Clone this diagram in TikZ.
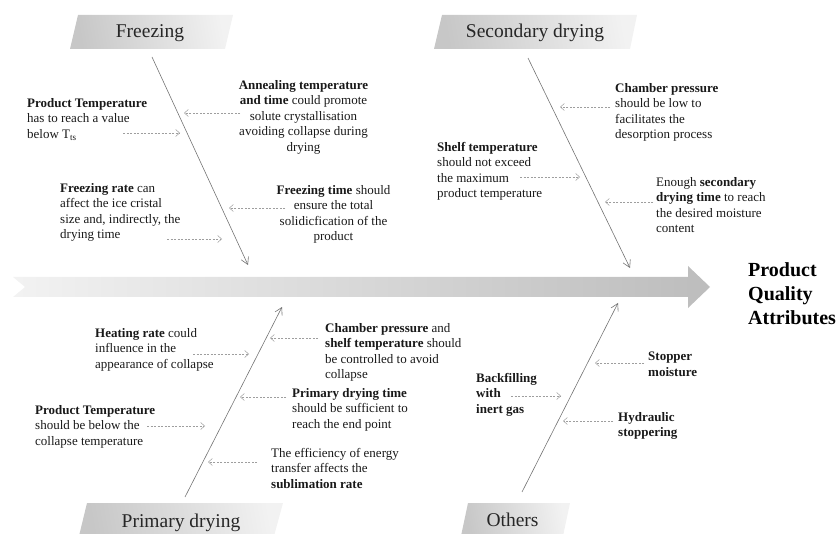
\documentclass[tikz,border=0pt]{standalone}
\usepackage{fontspec}
\setmainfont{Liberation Serif}
\usetikzlibrary{arrows.meta}
\begin{document}
\begin{tikzpicture}[x=1pt,y=-1pt,
  txt/.style={font=\fontsize{13}{15.5}\selectfont, inner sep=0pt, align=left, anchor=north west, text=black!90},
  ctxt/.style={txt, align=center, anchor=north},
  ttl/.style={font=\fontsize{19.5}{23}\selectfont, inner sep=0pt, anchor=base, text=black!85},
  pqa/.style={font=\fontsize{20}{24}\selectfont\bfseries, inner sep=0pt, align=left, anchor=north west, text=black},
  bone/.style={draw=black!55, line width=0.6pt, -{Straight Barb[length=7pt,width=8pt]}},
  cause/.style={draw=black!38, line width=0.5pt, dash pattern=on 2pt off 1.5pt, -{Straight Barb[length=4pt,width=7pt]}},
  banner/.style={left color=black!22, right color=black!5, shading angle=100}
]
\useasboundingbox (0,0) rectangle (837,534);

% main arrow
\shade[left color=black!5, right color=black!26]
  (13,277) -- (688,277) -- (688,266) -- (710,287) -- (688,308) -- (688,297) -- (13,297) -- (25,287) -- cycle;

% banners
\shade[banner] (78,15) -- (233,15) -- (225,49) -- (70,49) -- cycle;
\shade[banner] (442,15) -- (637,15) -- (630,49) -- (434,49) -- cycle;
\shade[banner] (87,503) -- (283,503) -- (274,536) -- (79,536) -- cycle;
\shade[banner] (468,503) -- (570,503) -- (563,536) -- (461,536) -- cycle;

\node[ttl] (tFreez) at (150,38) {Freezing};
\node[ttl] (tSec) at (535,38) {Secondary drying};
\node[ttl] (tPrim) at (181,527) {Primary drying};
\node[ttl] (tOth) at (512.5,526) {Others};

\node[pqa] (pqa) at (748,262) {Product\\Quality\\Attributes};

% bones
\coordinate (bF0) at (152,57);  \coordinate (bF1) at (248,265);
\coordinate (bS0) at (528,58);  \coordinate (bS1) at (630,268);
\coordinate (bP0) at (185,497); \coordinate (bP1) at (282,307);
\coordinate (bO0) at (522,492); \coordinate (bO1) at (618,303);
\draw[bone] (bF0) -- (bF1);
\draw[bone] (bS0) -- (bS1);
\draw[bone] (bP0) -- (bP1);
\draw[bone] (bO0) -- (bO1);

% Freezing causes
\node[txt] (fPT) at (27,98) {\textbf{Product Temperature}\\has to reach a value\\below T\textsubscript{ts}};
\node[ctxt] (fAnn) at (303.5,80) {\textbf{Annealing temperature}\\\textbf{and time} could promote\\solute crystallisation\\avoiding collapse during\\drying};
\node[txt] (fRate) at (60,183) {\textbf{Freezing rate} can\\affect the ice cristal\\size and, indirectly, the\\drying time};
\node[ctxt] (fTime) at (333.5,185) {\textbf{Freezing time} should\\ensure the total\\solidicfication of the\\product};

\coordinate (a1s) at (240,113); \coordinate (a1e) at (184,113);
\coordinate (a2s) at (123,133); \coordinate (a2e) at (180,133);
\coordinate (a3s) at (167,239); \coordinate (a3e) at (222,239);
\coordinate (a4s) at (285,208); \coordinate (a4e) at (229,208);
\draw[cause] (a1s) -- (a1e);
\draw[cause] (a2s) -- (a2e);
\draw[cause] (a3s) -- (a3e);
\draw[cause] (a4s) -- (a4e);

% Secondary drying causes
\node[txt] (sCP) at (615,83) {\textbf{Chamber pressure}\\should be low to\\facilitates the\\desorption process};
\node[txt] (sST) at (437,142) {\textbf{Shelf temperature}\\should not exceed\\the maximum\\product temperature};
\node[txt] (sDT) at (656,177) {Enough \textbf{secondary}\\\textbf{drying time} to reach\\the desired moisture\\content};

\coordinate (b1s) at (610,107); \coordinate (b1e) at (560,107);
\coordinate (b2s) at (520,177); \coordinate (b2e) at (580,177);
\coordinate (b3s) at (653,202); \coordinate (b3e) at (605,202);
\draw[cause] (b1s) -- (b1e);
\draw[cause] (b2s) -- (b2e);
\draw[cause] (b3s) -- (b3e);

% Primary drying causes
\node[txt] (pHR) at (95,328) {\textbf{Heating rate} could\\influence in the\\appearance of collapse};
\node[txt] (pCP) at (325,323) {\textbf{Chamber pressure} and\\\textbf{shelf temperature} should\\be controlled to avoid\\collapse};
\node[txt] (pDT) at (292,388) {\textbf{Primary drying time}\\should be sufficient to\\reach the end point};
\node[txt] (pPT) at (35,405) {\textbf{Product Temperature}\\should be below the\\collapse temperature};
\node[txt] (pEF) at (271,448) {The efficiency of energy\\transfer affects the\\\textbf{sublimation rate}};

\coordinate (c1s) at (193,354); \coordinate (c1e) at (249,354);
\coordinate (c2s) at (318,338); \coordinate (c2e) at (270,338);
\coordinate (c3s) at (286,397); \coordinate (c3e) at (240,397);
\coordinate (c4s) at (147,426); \coordinate (c4e) at (205,426);
\coordinate (c5s) at (257,462); \coordinate (c5e) at (208,462);
\draw[cause] (c1s) -- (c1e);
\draw[cause] (c2s) -- (c2e);
\draw[cause] (c3s) -- (c3e);
\draw[cause] (c4s) -- (c4e);
\draw[cause] (c5s) -- (c5e);

% Others causes
\node[txt, font=\fontsize{13}{15.5}\selectfont\bfseries] (oSM) at (648,352) {Stopper\\moisture};
\node[txt, font=\fontsize{13}{15.5}\selectfont\bfseries] (oBF) at (476,373) {Backfilling\\with\\inert gas};
\node[txt, font=\fontsize{13}{15.5}\selectfont\bfseries] (oHS) at (618,412) {Hydraulic\\stoppering};

\coordinate (d1s) at (644,363); \coordinate (d1e) at (595,363);
\coordinate (d2s) at (511,396); \coordinate (d2e) at (561,396);
\coordinate (d3s) at (613,421); \coordinate (d3e) at (563,421);
\draw[cause] (d1s) -- (d1e);
\draw[cause] (d2s) -- (d2e);
\draw[cause] (d3s) -- (d3e);
\end{tikzpicture}
\end{document}
